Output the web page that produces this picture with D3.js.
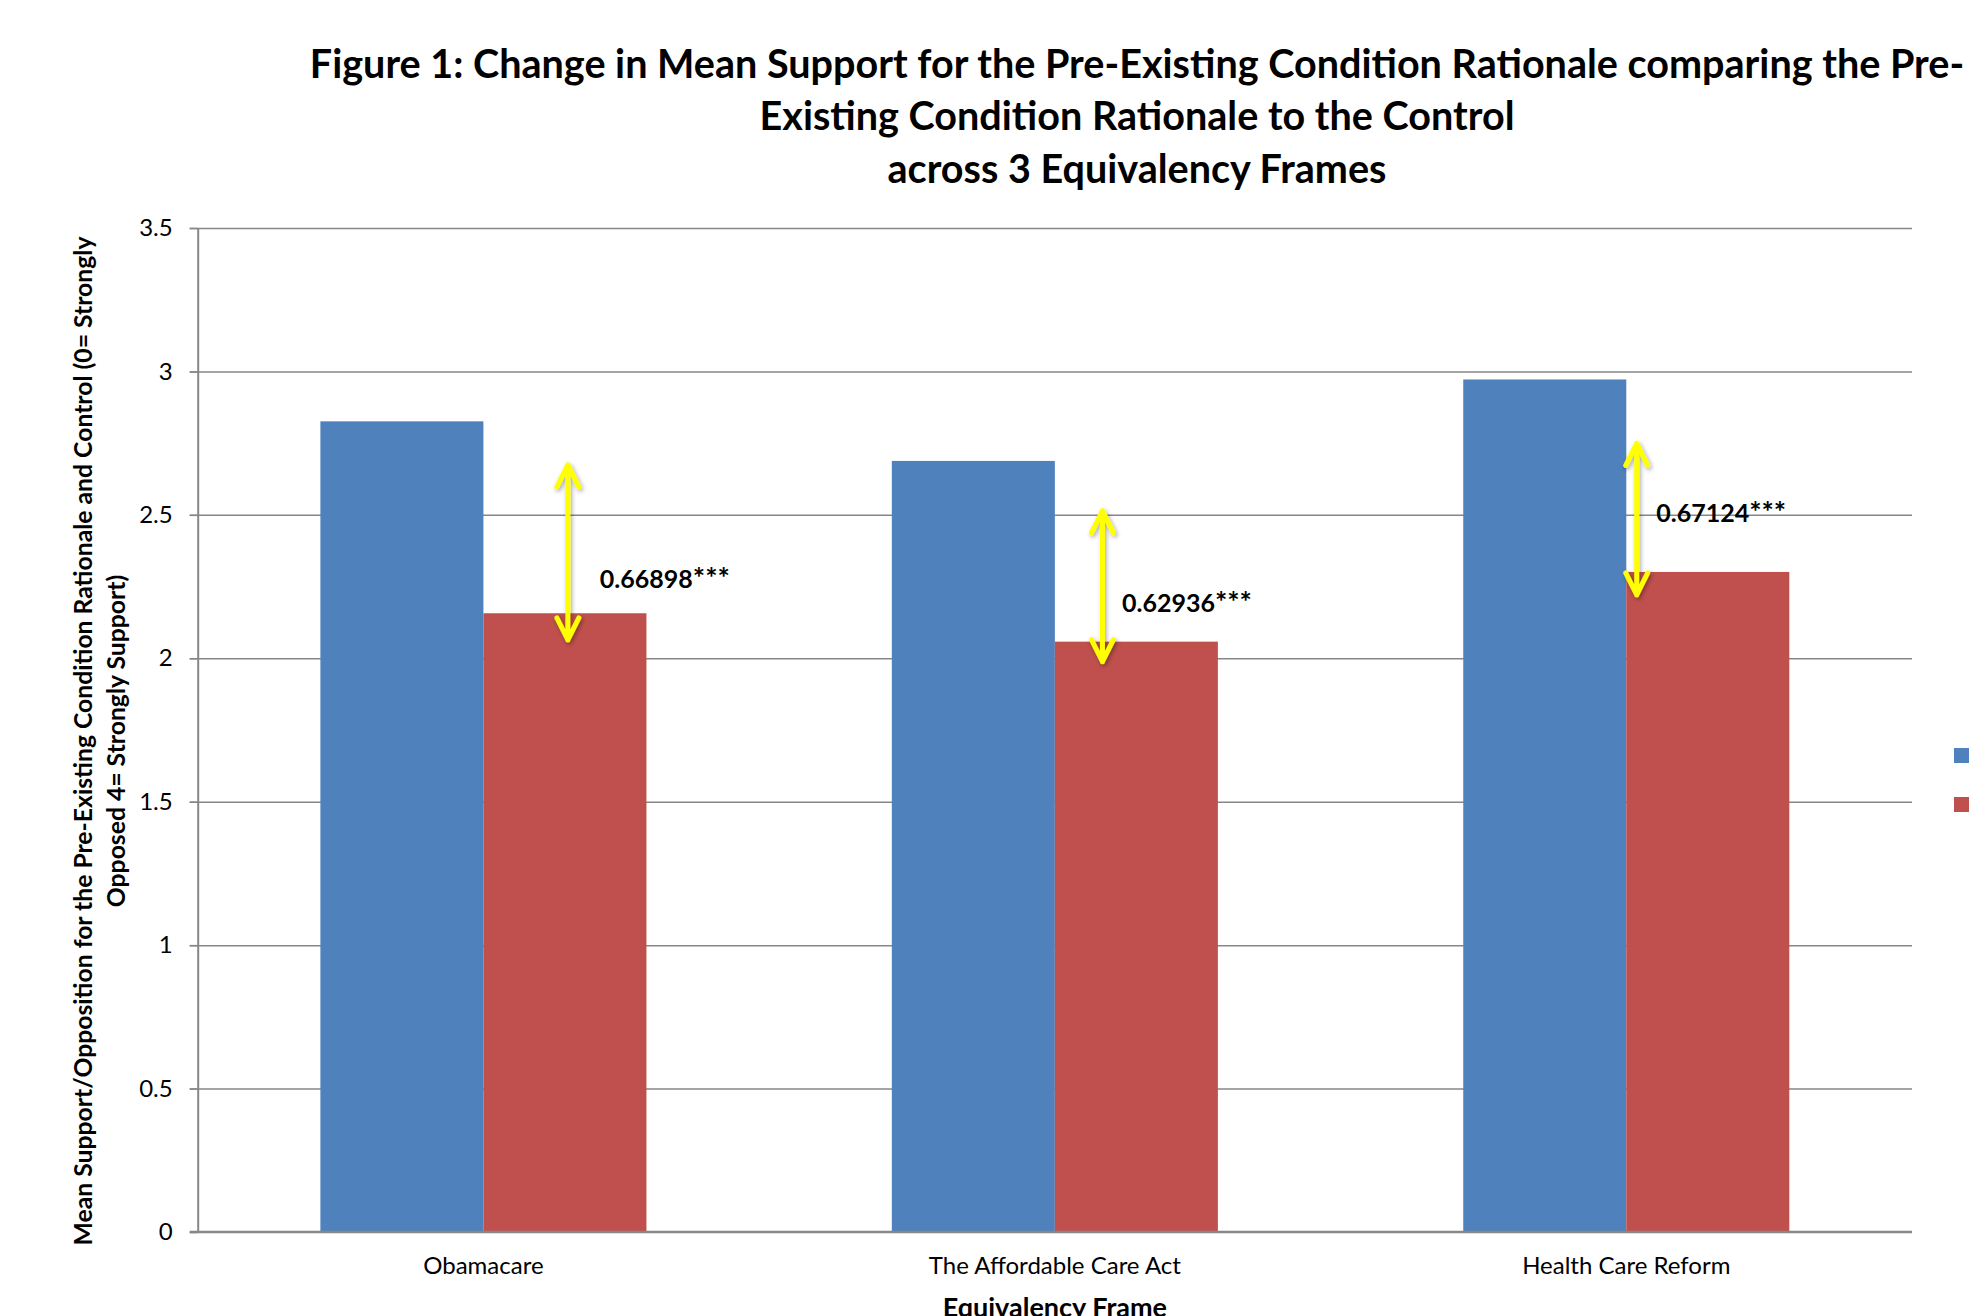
<!DOCTYPE html>
<html>
<head>
<meta charset="utf-8">
<script src="https://cdn.jsdelivr.net/npm/d3@7"></script>
<style>
  body { margin: 0; background: #fff; }
  svg { display: block; }
</style>
</head>
<body>
<script>
// ---- data ----
const categories = ["Obamacare", "The Affordable Care Act", "Health Care Reform"];
const seriesNames = ["Control", "Pre-Existing Condition Rationale"];
const controlMeans = [2.826, 2.688, 2.972];
const rationaleMeans = [2.157, 2.058, 2.301];
const differences = [0.66898, 0.62936, 0.67124];
const significance = ["***", "***", "***"];
const yTickValues = [0, 0.5, 1, 1.5, 2, 2.5, 3, 3.5];
const yTickLabels = ["0", "0.5", "1", "1.5", "2", "2.5", "3", "3.5"];
// double-headed annotation arrows: start / end on the value axis
const arrowTop = [2.674, 2.514, 2.749];
const arrowBottom = [2.064, 1.988, 2.221];
const labelValue = [2.245, 2.162, 2.476];

const titleLines = [
  "Figure 1: Change in Mean Support for the Pre-Existing Condition Rationale comparing the Pre-",
  "Existing Condition Rationale to the Control",
  "across 3 Equivalency Frames"
];
const yTitleLines = [
  "Mean Support/Opposition for the Pre-Existing Condition Rationale and Control (0= Strongly",
  "Opposed 4= Strongly Support)"
];
const xTitle = "Equivalency Frame";

// ---- layout ----
const W = 1973, H = 1316;
const plot = { left: 197.7, right: 1912, top: 228, bottom: 1232 };
const colors = { [seriesNames[0]]: "#4F81BD", [seriesNames[1]]: "#C0504D" };
const gridColor = "#878787";
const FONT = "Lato, 'Open Sans', sans-serif";

const svg = d3.select("body").append("svg")
  .attr("width", W).attr("height", H)
  .style("font-family", FONT);

const defs = svg.append("defs");
const shadow = defs.append("filter").attr("id", "arrowShadow")
  .attr("x", "-50%").attr("y", "-20%").attr("width", "200%").attr("height", "140%");
shadow.append("feDropShadow")
  .attr("dx", 1.5).attr("dy", 2).attr("stdDeviation", 2)
  .attr("flood-color", "#000").attr("flood-opacity", 0.35);

// scales
const x0 = d3.scaleBand().domain(categories)
  .range([plot.left, plot.right])
  .paddingInner(0.4294).paddingOuter(0.2147);
const x1 = d3.scaleBand().domain(seriesNames).range([0, x0.bandwidth()]);
const y = d3.scaleLinear().domain([0, 3.5]).range([plot.bottom, plot.top]);

// gridlines (running left over the outer tick marks)
const grid = svg.append("g")
  .attr("transform", `translate(${plot.left},0)`)
  .call(d3.axisLeft(y).tickValues(yTickValues.filter(v => v > 0))
    .tickSize(-(plot.right - plot.left)).tickFormat(""));
grid.select(".domain").remove();
grid.selectAll("line").attr("stroke", gridColor).attr("stroke-width", 1.5)
  .attr("x1", -8);

// bars
const rows = categories.map((c, i) => ({
  category: c,
  values: [
    { series: seriesNames[0], value: controlMeans[i] },
    { series: seriesNames[1], value: rationaleMeans[i] }
  ]
}));

const groups = svg.append("g").selectAll("g").data(rows).join("g")
  .attr("transform", d => `translate(${x0(d.category)},0)`);
groups.selectAll("rect").data(d => d.values).join("rect")
  .attr("x", d => x1(d.series))
  .attr("width", x1.bandwidth())
  .attr("y", d => y(d.value))
  .attr("height", d => y(0) - y(d.value))
  .attr("fill", d => colors[d.series]);

// y axis
const yAxis = svg.append("g")
  .attr("transform", `translate(${plot.left},0)`)
  .call(d3.axisLeft(y).tickValues(yTickValues)
    .tickFormat((d, i) => yTickLabels[i])
    .tickSizeInner(8).tickSizeOuter(0).tickPadding(17));
yAxis.select(".domain").attr("stroke", gridColor).attr("stroke-width", 2);
yAxis.selectAll("line").attr("stroke", gridColor).attr("stroke-width", 1.5);
yAxis.selectAll("text").attr("font-size", 24).attr("fill", "#000")
  .style("font-family", FONT);

// x axis
const xAxis = svg.append("g")
  .attr("transform", `translate(0,${plot.bottom})`)
  .call(d3.axisBottom(x0).tickSize(0).tickPadding(0));
xAxis.select(".domain").attr("stroke", gridColor).attr("stroke-width", 2.5)
  .attr("d", `M${plot.left - 8},0H${plot.right}`);
xAxis.selectAll("text").attr("dy", null).attr("y", 42)
  .attr("font-size", 24).attr("fill", "#000").style("font-family", FONT);

// difference arrows and labels
const ann = svg.append("g");
const arrowFrac = [0.759, 0.646, 0.532];
categories.forEach((c, i) => {
  const ax = x0(c) + x0.bandwidth() * arrowFrac[i];
  const yt = y(arrowTop[i]), yb = y(arrowBottom[i]);
  const hw = 11, hh = 22;
  ann.append("path")
    .attr("d", `M${ax},${yt}V${yb}` +
      `M${ax - hw},${yt + hh}L${ax},${yt}L${ax + hw},${yt + hh}` +
      `M${ax - hw},${yb - hh}L${ax},${yb}L${ax + hw},${yb - hh}`)
    .attr("fill", "none").attr("stroke", "#FFFF00")
    .attr("stroke-width", 5).attr("stroke-linecap", "round")
    .attr("stroke-linejoin", "round")
    .attr("filter", "url(#arrowShadow)");
  const lbl = ann.append("text")
    .attr("x", ax + (i === 0 ? 32 : 19.5))
    .attr("y", y(labelValue[i]))
    .attr("font-size", 25).attr("font-weight", 700).attr("fill", "#000");
  lbl.append("tspan").text(d3.format(".5f")(differences[i]));
  lbl.append("tspan").attr("font-size", 29).text(significance[i]);
});

// legend (runs past the right edge)
const legend = svg.append("g").attr("transform", "translate(1954,748)");
seriesNames.forEach((s, i) => {
  legend.append("rect").attr("x", 0).attr("y", i * 49)
    .attr("width", 15).attr("height", 15).attr("fill", colors[s]);
  legend.append("text").attr("x", 22).attr("y", i * 49 + 14)
    .attr("font-size", 24).text(s);
});

// fit a text element to a target width
function fit(sel, target) {
  const len = sel.node().getComputedTextLength();
  const fs = parseFloat(sel.attr("font-size"));
  return fs * target / len;
}

// chart title
const title = svg.append("g").attr("font-weight", 700).attr("fill", "#000");
const tBase = [78, 130, 183];
const t0 = title.append("text").attr("font-size", 36).text(titleLines[0]);
const titleSize = fit(t0, 1655);
t0.remove();
titleLines.forEach((line, i) => {
  title.append("text")
    .attr("x", 1137).attr("y", tBase[i])
    .attr("text-anchor", "middle")
    .attr("font-size", titleSize)
    .text(line);
});

// y-axis title
const yt = svg.append("g").attr("font-weight", 700).attr("fill", "#000")
  .attr("transform", "rotate(-90)");
const y0t = yt.append("text").attr("font-size", 24).text(yTitleLines[0]);
const ySize = fit(y0t, 1009);
y0t.remove();
[92, 125].forEach((b, i) => {
  yt.append("text")
    .attr("x", -741).attr("y", b)
    .attr("text-anchor", "middle")
    .attr("font-size", ySize)
    .text(yTitleLines[i]);
});

// x-axis title
svg.append("text")
  .attr("x", (plot.left + plot.right) / 2).attr("y", 1317)
  .attr("text-anchor", "middle")
  .attr("font-size", 27).attr("font-weight", 700)
  .text(xTitle);
</script>
</body>
</html>
